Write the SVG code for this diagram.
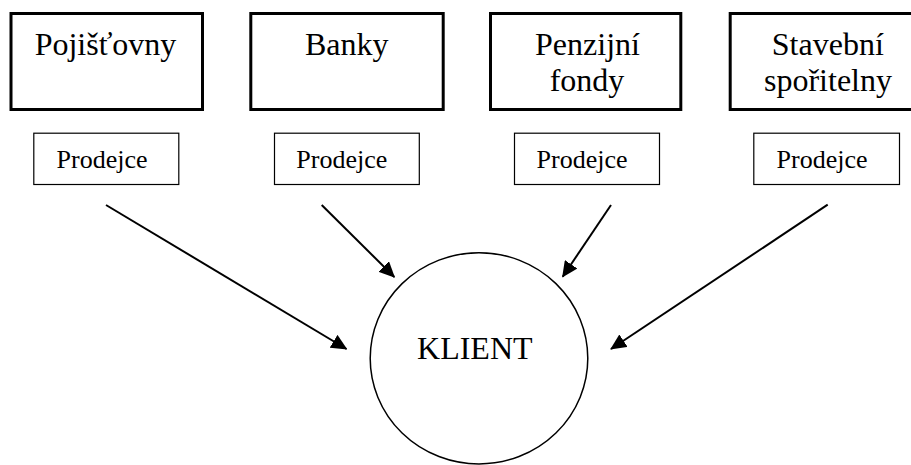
<svg xmlns="http://www.w3.org/2000/svg" width="911" height="465" viewBox="0 0 911 465">
<style>
.inst{fill:#fff;stroke:#000;stroke-width:3}
.seller{fill:#fff;stroke:#000;stroke-width:1.2}
.big{font-size:32px;fill:#000;text-anchor:middle}
.small{font-size:26px;fill:#000;text-anchor:middle}
.conn{stroke:#000;stroke-width:2;fill:none;marker-end:url(#ah)}
</style>
<defs>
<marker id="ah" markerUnits="userSpaceOnUse" markerWidth="16" markerHeight="15" refX="15" refY="7.5" orient="auto">
<path d="M0,0 L16,7.5 L0,15 z" fill="#000"/>
</marker>
</defs>
<rect width="911" height="465" fill="#fff"/>
<g font-family="'Liberation Serif', 'Times New Roman', 'DejaVu Serif', serif">
<g id="pojistovny">
<rect class="inst" x="11" y="13.5" width="191.5" height="96"/>
<text class="big" x="105.5" y="55">Pojišťovny</text>
</g>
<g id="banky">
<rect class="inst" x="250.8" y="13.5" width="192.4" height="96"/>
<text class="big" x="346.7" y="55">Banky</text>
</g>
<g id="penzijni">
<rect class="inst" x="490.5" y="13.5" width="190.3" height="96"/>
<text class="big" x="587.5" y="55">Penzijní</text>
<text class="big" x="587" y="91">fondy</text>
</g>
<g id="stavebni">
<rect class="inst" x="730.2" y="13.5" width="183" height="96"/>
<text class="big" x="827.8" y="55">Stavební</text>
<text class="big" x="828" y="91">spořitelny</text>
</g>
<g id="prodejce1">
<rect class="seller" x="33.8" y="133.2" width="145" height="51.3"/>
<text class="small" x="102" y="168">Prodejce</text>
</g>
<g id="prodejce2">
<rect class="seller" x="274.5" y="133.2" width="144.8" height="51.3"/>
<text class="small" x="341.8" y="168">Prodejce</text>
</g>
<g id="prodejce3">
<rect class="seller" x="514.5" y="133.2" width="145" height="51.3"/>
<text class="small" x="582" y="168">Prodejce</text>
</g>
<g id="prodejce4">
<rect class="seller" x="753.8" y="133.2" width="145.7" height="51.3"/>
<text class="small" x="822" y="168">Prodejce</text>
</g>
<g id="klient">
<ellipse cx="479" cy="358.3" rx="108.8" ry="105.6" fill="#fff" stroke="#000" stroke-width="1.5"/>
<text class="big" x="474.8" y="359.3">KLIENT</text>
</g>
</g>
<g id="connectors">
<line class="conn" x1="106" y1="205" x2="346.5" y2="349"/>
<line class="conn" x1="321.7" y1="205" x2="394.3" y2="277"/>
<line class="conn" x1="611" y1="205" x2="562.7" y2="276.7"/>
<line class="conn" x1="827.7" y1="204.7" x2="611" y2="349"/>
</g>
</svg>
